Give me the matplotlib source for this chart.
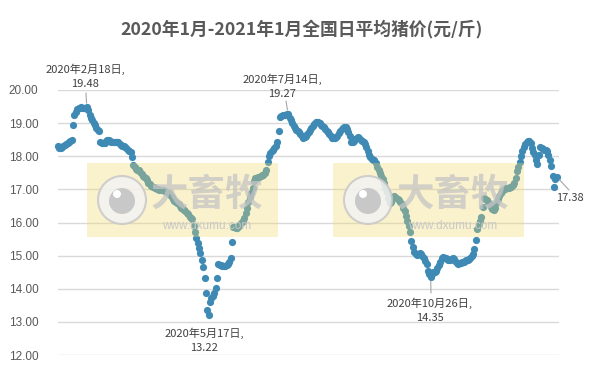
import matplotlib.pyplot as plt
from matplotlib.patches import Rectangle, Circle
import pandas as pd

plt.rcParams['font.family'] = ['Noto Sans CJK SC', 'DejaVu Sans']

# daily average pig price, one value per day starting 2020-01-28
start_date = "2020-01-28"
price = [
    18.30, 18.25, 18.26, 18.28, 18.31, 18.34, 18.38, 18.41, 18.44, 18.46,
    18.49, 18.94, 19.24, 19.35, 19.42, 19.45, 19.47, 19.48, 19.47, 19.46,
    19.47, 19.48, 19.40, 19.24, 19.15, 19.09, 19.00, 18.94, 18.85, 18.79,
    18.76, 18.44, 18.40, 18.39, 18.40, 18.45, 18.48, 18.49, 18.47, 18.44,
    18.44, 18.43, 18.42, 18.43, 18.44, 18.38, 18.34, 18.32, 18.30, 18.27,
    18.24, 18.20, 18.17, 18.14, 17.99, 17.73, 17.68, 17.62, 17.60, 17.58,
    17.52, 17.47, 17.41, 17.38, 17.35, 17.28, 17.20, 17.15, 17.10, 17.08,
    17.06, 17.03, 17.02, 17.01, 16.99, 16.98, 16.98, 16.97, 16.95, 16.92,
    16.90, 16.88, 16.83, 16.78, 16.72, 16.65, 16.62, 16.60, 16.55, 16.50,
    16.45, 16.40, 16.38, 16.35, 16.30, 16.25, 16.18, 16.15, 16.12, 15.90,
    15.72, 15.52, 15.37, 15.22, 15.07, 14.86, 14.66, 14.31, 13.86, 13.37,
    13.22, 13.61, 13.71, 13.78, 13.86, 14.01, 14.31, 14.76, 14.73, 14.71,
    14.70, 14.69, 14.70, 14.71, 14.76, 14.82, 14.92, 15.42, 15.87, 15.85,
    15.82, 15.82, 15.88, 15.95, 16.02, 16.05, 16.15, 16.30, 16.45, 16.63,
    16.78, 16.90, 17.05, 17.25, 17.33, 17.35, 17.38, 17.38, 17.40, 17.42,
    17.43, 17.50, 17.58, 17.83, 18.00, 18.09, 18.15, 18.20, 18.24, 18.30,
    18.44, 18.75, 19.19, 19.22, 19.24, 19.26, 19.25, 19.27, 19.27, 19.15,
    19.08, 19.00, 18.92, 18.86, 18.80, 18.76, 18.72, 18.66, 18.60, 18.55,
    18.58, 18.62, 18.68, 18.74, 18.80, 18.86, 18.92, 18.98, 19.02, 19.04,
    19.04, 19.00, 18.95, 18.92, 18.88, 18.82, 18.77, 18.74, 18.68, 18.60,
    18.55, 18.54, 18.56, 18.58, 18.62, 18.70, 18.76, 18.82, 18.86, 18.89,
    18.88, 18.82, 18.74, 18.60, 18.44, 18.42, 18.46, 18.52, 18.55, 18.58,
    18.55, 18.50, 18.46, 18.42, 18.36, 18.29, 18.15, 18.05, 17.97, 17.92,
    17.90, 17.88, 17.80, 17.68, 17.58, 17.50, 17.40, 17.30, 17.20, 17.05,
    16.93, 16.73, 16.60, 16.62, 16.75, 16.80, 16.78, 16.74, 16.72, 16.68,
    16.62, 16.55, 16.45, 16.35, 16.20, 16.05, 15.88, 15.70, 15.45, 15.25,
    15.12, 15.05, 15.02, 15.05, 15.08, 15.05, 14.98, 14.92, 14.85, 14.76,
    14.55, 14.45, 14.35, 14.45, 14.51, 14.52, 14.55, 14.62, 14.72, 14.82,
    14.94, 14.96, 14.94, 14.93, 14.90, 14.86, 14.88, 14.90, 14.92, 14.90,
    14.85, 14.78, 14.76, 14.77, 14.79, 14.80, 14.81, 14.83, 14.86, 14.88,
    14.91, 14.94, 14.98, 15.05, 15.20, 15.47, 15.80, 15.95, 16.05, 16.17,
    16.48, 16.73, 16.70, 16.68, 16.62, 16.55, 16.48, 16.40, 16.37, 16.45,
    16.58, 16.70, 16.80, 16.88, 16.94, 16.98, 17.00, 17.03, 17.04, 17.04,
    17.06, 17.08, 17.12, 17.20, 17.35, 17.55, 17.68, 17.82, 18.00, 18.15,
    18.29, 18.38, 18.44, 18.47, 18.45, 18.39, 18.25, 18.14, 18.04, 17.89,
    17.78, 18.05, 18.29, 18.26, 18.22, 18.20, 18.19, 18.15, 18.05, 17.89,
    17.70, 17.40, 17.08, 17.30, 17.38,
]
dates = pd.date_range(start_date, periods=len(price), freq="D")

# labelled points: date, label text, label centre (px), leader start (px)
labels = [
    ("2020-02-18", "2020年2月18日,\n19.48", (85, 76), (86, 93)),
    ("2020-05-17", "2020年5月17日,\n13.22", (204, 340), None),
    ("2020-07-14", "2020年7月14日,\n19.27", (282, 86), (286, 101)),
    ("2020-10-26", "2020年10月26日,\n14.35", (430, 310), (431, 293)),
    ("2021-01-26", "17.38", (570, 198), (569, 190)),
]
yticks = [12, 13, 14, 15, 16, 17, 18, 19, 20]

W, H = 593, 378
grey = "#595959"
blue = "#3f8ab5"

fig = plt.figure(figsize=(W / 100, H / 100), dpi=100)
ax = fig.add_axes([58 / W, 1 - 355 / H, (559 - 58) / W, (355 - 90) / H])

ax.scatter(dates, price, s=27, color=blue, linewidths=0, zorder=3, clip_on=False)

ax.set_ylim(12, 20)
ax.set_xlim(dates[0], dates[0] + pd.Timedelta(days=365.7))
ax.set_yticks(yticks)
ax.set_yticklabels([f"{v:.2f}" for v in yticks], fontsize=8.5, color=grey,
                   family=["Liberation Sans", "DejaVu Sans"])
ax.tick_params(axis="y", length=0, pad=14)
ax.set_xticks([])
ax.grid(axis="y", color="#d9d9d9", linewidth=1)
ax.set_axisbelow(True)
for s in ax.spines.values():
    s.set_visible(False)

fig.text(302 / W, 1 - 30 / H, "2020年1月-2021年1月全国日平均猪价(元/斤)",
         ha="center", va="center", fontsize=12.8, fontweight="bold", color=grey)


def px(x, y):
    return x / W, 1 - y / H


# data labels with leader lines
for d, txt, (lx, ly), lead in labels:
    dt = pd.Timestamp(d)
    val = price[list(dates).index(dt)]
    fig.text(*px(lx, ly), txt, ha="center", va="center", fontsize=8,
             color="#404040", linespacing=1.55)
    if lead is not None:
        ax.annotate("", xy=(dt, val), xycoords="data",
                    xytext=px(*lead), textcoords="figure fraction",
                    arrowprops=dict(arrowstyle="-", color="#a6a6a6", lw=0.8,
                                    shrinkA=0, shrinkB=3))

# watermarks (drawn over the points, semi transparent)
for x0 in (87, 333):
    fig.add_artist(Rectangle(px(x0, 237), 191 / W, 74 / H, transform=fig.transFigure,
                             facecolor="#f0da6a", alpha=0.33, edgecolor="none", zorder=5))
    fig.add_artist(Circle((x0 + 35, H - 200), 24, transform=None,
                          facecolor="#f2f2f2", edgecolor="#c8c8c8", lw=1.5,
                          alpha=0.85, zorder=6))
    fig.add_artist(Circle((x0 + 35, H - 201), 13, transform=None,
                          facecolor="#c4c4c4", edgecolor="none", alpha=0.9, zorder=7))
    fig.add_artist(Circle((x0 + 30, H - 194), 4, transform=None,
                          facecolor="white", edgecolor="none", zorder=8))
    fig.text(*px(x0 + 120, 194), "大畜牧", ha="center", va="center", fontsize=27,
             fontweight="bold", color="#c4c4c4", alpha=0.75, zorder=6)
    fig.text(*px(x0 + 120, 226), "www.dxumu.com", ha="center", va="center",
             fontsize=8.5, color="#c8c8c8", zorder=6,
             family=["Liberation Sans", "DejaVu Sans"])

fig.savefig("out.png", dpi=100)
